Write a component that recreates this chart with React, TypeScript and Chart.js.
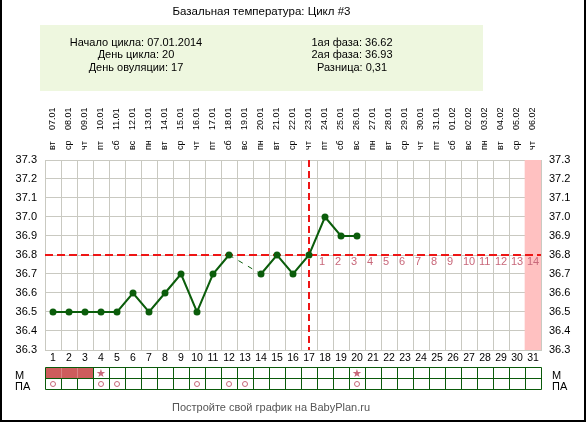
import React, { useEffect, useRef } from 'react';
import { Chart, registerables } from 'chart.js';

Chart.register(...registerables);

const FONT = 'Arial, "Liberation Sans", sans-serif';

const dayNumbers = ['1', '2', '3', '4', '5', '6', '7', '8', '9', '10', '11', '12', '13', '14', '15', '16', '17', '18', '19', '20', '21', '22', '23', '24', '25', '26', '27', '28', '29', '30', '31'];
const weekdayLabels = ['вт', 'ср', 'чт', 'пт', 'сб', 'вс', 'пн', 'вт', 'ср', 'чт', 'пт', 'сб', 'вс', 'пн', 'вт', 'ср', 'чт', 'пт', 'сб', 'вс', 'пн', 'вт', 'ср', 'чт', 'пт', 'сб', 'вс', 'пн', 'вт', 'ср', 'чт'];
const dateLabels = ['07.01', '08.01', '09.01', '10.01', '11.01', '12.01', '13.01', '14.01', '15.01', '16.01', '17.01', '18.01', '19.01', '20.01', '21.01', '22.01', '23.01', '24.01', '25.01', '26.01', '27.01', '28.01', '29.01', '30.01', '31.01', '01.02', '02.02', '03.02', '04.02', '05.02', '06.02'];
const temperatures = [36.5, 36.5, 36.5, 36.5, 36.5, 36.6, 36.5, 36.6, 36.7, 36.5, 36.7, 36.8, null, 36.7, 36.8, 36.7, 36.8, 37.0, 36.9, 36.9];
const coverline = 36.8;
const ovulationDay = 17;
const phaseDayLabels = ['1', '2', '3', '4', '5', '6', '7', '8', '9', '10', '11', '12', '13', '14'];
const highlightDays = [31];
const mensesDays = [1, 2, 3];
const mStarDays = [4, 20];
const paDays = [1, 4, 5, 10, 12, 13, 20];
const yMin = 36.3;
const yMax = 37.3;
const yStep = 0.1;

const infoLeft = ['Начало цикла: 07.01.2014', 'День цикла: 20', 'День овуляции: 17'];
const infoRight = ['1ая фаза: 36.62', '2ая фаза: 36.93', 'Разница: 0,31'];

const RED = '#ee1515';
const PINKTEXT = '#c8687a';
const GREEN = '#0b5d0b';
const GRID = '#c9c9c1';

const isGap = (c: any) =>
  temperatures[c.p0DataIndex] == null || temperatures[c.p1DataIndex] == null || c.p1DataIndex - c.p0DataIndex > 1;

const markersPlugin = {
  id: 'markers',
  afterDatasetDraw(chart: any, args: any) {
    if (args.index !== 1) return;
    const { ctx, chartArea: a, scales } = chart;
    const x = scales.x;
    const y = scales.y;
    const yc = y.getPixelForValue(coverline);
    const half = (x.getPixelForValue(1) - x.getPixelForValue(0)) / 2;
    ctx.save();
    ctx.fillStyle = PINKTEXT;
    ctx.font = '11px ' + FONT;
    ctx.textAlign = 'left';
    ctx.textBaseline = 'middle';
    phaseDayLabels.forEach((t, i) => {
      ctx.fillText(t, x.getPixelForValue(ovulationDay + i) - half + 2, yc + 7);
    });
    ctx.strokeStyle = RED;
    ctx.lineWidth = 2;
    ctx.setLineDash([8, 4]);
    ctx.beginPath();
    ctx.moveTo(a.left, Math.round(yc));
    ctx.lineTo(a.right, Math.round(yc));
    ctx.stroke();
    const xo = Math.round(x.getPixelForValue(ovulationDay - 1));
    ctx.setLineDash([7, 4]);
    ctx.beginPath();
    ctx.moveTo(xo, a.top);
    ctx.lineTo(xo, a.bottom);
    ctx.stroke();
    ctx.restore();
  },
};

const rowsPlugin = {
  id: 'rows',
  afterDraw(chart: any) {
    const { ctx } = chart;
    const x = chart.scales.x;
    const half = (x.getPixelForValue(1) - x.getPixelForValue(0)) / 2;
    const top = 367.5;
    const mid = 378.5;
    const bot = 389.5;
    const bound = (i: number) => Math.round(x.getPixelForValue(i) - half) + 0.5;
    ctx.save();
    ctx.fillStyle = '#cd5c5c';
    mensesDays.forEach((d) => {
      ctx.fillRect(bound(d - 1), top, bound(d) - bound(d - 1), mid - top);
    });
    ctx.strokeStyle = '#0a5a0a';
    ctx.lineWidth = 1;
    ctx.beginPath();
    [top, mid, bot].forEach((yy) => {
      ctx.moveTo(bound(0), yy);
      ctx.lineTo(bound(dayNumbers.length), yy);
    });
    for (let i = 0; i <= dayNumbers.length; i++) {
      const inMenses = mensesDays.includes(i) && mensesDays.includes(i + 1);
      ctx.moveTo(bound(i), inMenses ? mid : top);
      ctx.lineTo(bound(i), bot);
    }
    ctx.stroke();
    ctx.fillStyle = PINKTEXT;
    ctx.font = '11px "DejaVu Sans", sans-serif';
    ctx.textAlign = 'center';
    ctx.textBaseline = 'middle';
    mStarDays.forEach((d) => {
      ctx.fillText('★', x.getPixelForValue(d - 1), (top + mid) / 2 + 1);
    });
    ctx.strokeStyle = PINKTEXT;
    paDays.forEach((d) => {
      ctx.beginPath();
      ctx.arc(x.getPixelForValue(d - 1), (mid + bot) / 2, 2.5, 0, Math.PI * 2);
      ctx.stroke();
    });
    ctx.restore();
  },
};

export default function App() {
  const ref = useRef<HTMLCanvasElement>(null);

  useEffect(() => {
    Chart.defaults.font.family = FONT;
    const yTickFmt = (v: any) => Number(v).toFixed(1);
    const topFont = 9;
    const chart = new Chart(ref.current as HTMLCanvasElement, {
      type: 'line',
      data: {
        labels: dayNumbers,
        datasets: [
          {
            type: 'line',
            data: temperatures,
            borderColor: GREEN,
            backgroundColor: GREEN,
            borderWidth: 2,
            pointRadius: 3.5,
            pointHoverRadius: 3.5,
            pointBorderWidth: 0,
            pointBackgroundColor: GREEN,
            spanGaps: true,
            tension: 0,
            order: 1,
            segment: {
              borderDash: (c: any) => (isGap(c) ? [5, 6] : undefined),
              borderWidth: (c: any) => (isGap(c) ? 1 : undefined),
            },
          } as any,
          {
            type: 'bar',
            data: dayNumbers.map((d, i) => (highlightDays.includes(i + 1) ? [yMin, yMax] : null)),
            backgroundColor: '#ffc1c1',
            borderWidth: 0,
            barPercentage: 1,
            categoryPercentage: 1,
            order: 2,
          } as any,
        ],
      },
      options: {
        responsive: false,
        devicePixelRatio: 1,
        animation: false,
        spanGaps: true,
        layout: { padding: { top: 104, left: 0, right: 0, bottom: 56 } },
        plugins: { legend: { display: false }, tooltip: { enabled: false }, title: { display: false } },
        scales: {
          x: {
            type: 'category',
            position: 'bottom',
            offset: true,
            grid: { offset: true, color: GRID, drawTicks: false },
            border: { color: GRID },
            ticks: { color: '#000', font: { size: 10.5 }, padding: 2, autoSkip: false, maxRotation: 0 },
            afterFit: (s: any) => { s.height = 16; },
          },
          xDow: {
            type: 'category',
            position: 'top',
            weight: 0,
            labels: weekdayLabels,
            offset: true,
            grid: { display: false, drawTicks: false },
            border: { display: false },
            ticks: { color: '#000', font: { size: topFont }, padding: 10, labelOffset: topFont * 1.2, autoSkip: false, minRotation: 90, maxRotation: 90 },
            afterFit: (s: any) => { s.height = 20; },
          },
          xDate: {
            type: 'category',
            position: 'top',
            weight: 1,
            labels: dateLabels,
            offset: true,
            grid: { display: false, drawTicks: false },
            border: { display: false },
            ticks: { color: '#000', font: { size: topFont }, padding: 10, labelOffset: topFont * 1.2, autoSkip: false, minRotation: 90, maxRotation: 90 },
            afterFit: (s: any) => { s.height = 36; },
          },
          y: {
            type: 'linear',
            position: 'left',
            min: yMin,
            max: yMax,
            grid: { color: GRID, drawTicks: false },
            border: { color: GRID },
            ticks: { stepSize: yStep, color: '#000', font: { size: 11 }, padding: 8, callback: yTickFmt },
            afterFit: (s: any) => { s.width = 45; },
          },
          y2: {
            type: 'linear',
            position: 'right',
            min: yMin,
            max: yMax,
            grid: { display: false, drawTicks: false },
            border: { color: GRID },
            ticks: { stepSize: yStep, color: '#000', font: { size: 11 }, padding: 8, callback: yTickFmt },
            afterFit: (s: any) => { s.width = 45; },
          },
        },
      } as any,
      plugins: [markersPlugin, rowsPlugin],
    });
    return () => chart.destroy();
  }, []);

  const txt: React.CSSProperties = { fontSize: 11, lineHeight: '12.5px', color: '#000', whiteSpace: 'nowrap' };

  return (
    <div style={{ position: 'absolute', left: 0, top: 0, width: 586, height: 422, background: '#fff', fontFamily: FONT, overflow: 'hidden' }}>
      <canvas ref={ref} width={586} height={422} style={{ position: 'absolute', left: 0, top: 0, width: 586, height: 422 }} />
      <div style={{ position: 'absolute', left: 40, top: 4, width: 443, textAlign: 'center', fontSize: 11.5, lineHeight: '14px', color: '#000' }}>
        Базальная температура: Цикл #3
      </div>
      <div style={{ position: 'absolute', left: 40, top: 25, width: 443, height: 66, background: '#eef7df' }}>
        <div style={{ position: 'absolute', left: 0, top: 10.5, width: 192, textAlign: 'center' }}>
          {infoLeft.map((t) => (<div key={t} style={txt}>{t}</div>))}
        </div>
        <div style={{ position: 'absolute', left: 216, top: 10.5, width: 192, textAlign: 'center' }}>
          {infoRight.map((t) => (<div key={t} style={txt}>{t}</div>))}
        </div>
      </div>
      <div style={{ position: 'absolute', left: 15, top: 368.5, fontSize: 11, lineHeight: '12px' }}>М</div>
      <div style={{ position: 'absolute', left: 15, top: 380, fontSize: 11, lineHeight: '12px' }}>ПА</div>
      <div style={{ position: 'absolute', left: 552, top: 368.5, fontSize: 11, lineHeight: '12px' }}>М</div>
      <div style={{ position: 'absolute', left: 552, top: 380, fontSize: 11, lineHeight: '12px' }}>ПА</div>
      <div style={{ position: 'absolute', left: 121, top: 400, width: 300, textAlign: 'center', fontSize: 11, lineHeight: '14px', color: '#555' }}>
        Постройте свой график на BabyPlan.ru
      </div>
      <div style={{ position: 'absolute', left: 0, top: 0, width: 586, height: 422, boxSizing: 'border-box', borderLeft: '2px solid #000', borderRight: '2px solid #000', borderBottom: '2px solid #000', pointerEvents: 'none' }} />
    </div>
  );
}
